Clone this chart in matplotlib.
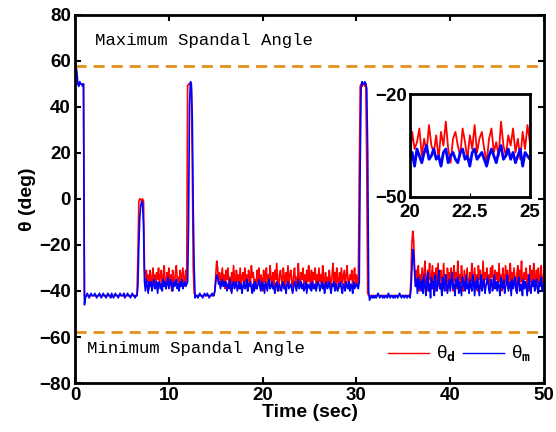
import matplotlib
matplotlib.use('Agg')
import matplotlib.pyplot as plt
import numpy as np

plt.rcParams['font.family'] = ['Liberation Sans', 'DejaVu Sans']
plt.rcParams['font.weight'] = 'bold'
plt.rcParams['axes.labelweight'] = 'bold'

# sampled every 0.1 s, one row per second (row k starts at t = k)
theta_d_rows = [
    [50, 50, 50, 50, 50, 50, 50, 50, 50, 50],
    [-42] * 10, [-42] * 10, [-42] * 10, [-42] * 10, [-42] * 10,
    [-42, -42, -42, -42, -42, -42, -42, -25, -1, 0],
    [0, -1, 0, -1, -30, -38, -31, -36, -33, -39],
    [-31, -35, -38, -30, -36, -33, -39, -32, -35, -30],
    [-37, -33, -31, -38, -34, -29, -36, -39, -32, -35],
    [-30, -37, -33, -40, -31, -35, -38, -32, -29, -36],
    [-34, -39, -31, -36, -33, -30, -38, -35, -31, -37],
    [49, 50, 50, 50, 48, 15, -30, -41, -42, -42],
    [-42] * 10,
    [-42, -42, -42, -42, -42, -42, -42, -42, -42, -40],
    [-33, -27, -30, -36, -32, -38, -34, -30, -37, -33],
    [-39, -31, -35, -30, -37, -34, -40, -32, -36, -29],
    [-35, -38, -31, -36, -33, -39, -30, -37, -34, -32],
    [-38, -30, -36, -33, -40, -31, -35, -37, -29, -34],
    [-32, -37, -35, -39, -31, -36, -30, -38, -33, -35],
    [-40, -31, -36, -34, -30, -38, -33, -37, -29, -35],
    [-37, -32, -39, -31, -35, -28, -36, -40, -33, -31],
    [-35, -38, -30, -34, -39, -32, -36, -29, -37, -33],
    [-31, -36, -40, -33, -30, -37, -34, -38, -28, -35],
    [-38, -32, -35, -30, -37, -33, -39, -31, -36, -29],
    [-34, -37, -31, -39, -32, -35, -30, -38, -33, -36],
    [-30, -36, -33, -38, -29, -35, -39, -32, -37, -34],
    [-37, -31, -35, -40, -33, -28, -36, -32, -38, -30],
    [-35, -39, -32, -36, -30, -37, -34, -31, -38, -33],
    [-29, -36, -38, -33, -35, -31, -39, -34, -30, -37],
    [-33, -38, -35, 10, 49, 50, 49, 50, 50, 49],
    [50, 12, -41, -42, -42, -42, -42, -42, -42, -42],
    [-42] * 10, [-42] * 10, [-42] * 10,
    [-42, -42, -42, -42, -42, -42, -42, -42, -36, -20],
    [-14, -18, -30, -38, -31, -36, -29, -40, -33, -37],
    [-30, -38, -33, -27, -36, -40, -31, -35, -28, -39],
    [-34, -29, -37, -32, -40, -30, -36, -28, -38, -33],
    [-31, -39, -35, -28, -37, -33, -40, -30, -36, -32],
    [-38, -30, -34, -40, -29, -36, -32, -39, -27, -35],
    [-33, -37, -29, -35, -40, -31, -38, -34, -30, -36],
    [-39, -32, -36, -28, -34, -38, -30, -37, -33, -40],
    [-29, -35, -31, -39, -36, -27, -38, -32, -35, -30],
    [-37, -33, -40, -30, -34, -29, -36, -39, -31, -35],
    [-32, -38, -28, -36, -33, -40, -30, -35, -37, -29],
    [-36, -31, -39, -34, -28, -37, -32, -38, -30, -35],
    [-40, -33, -29, -37, -31, -36, -27, -39, -34, -32],
    [-35, -30, -38, -33, -40, -29, -36, -31, -37, -28],
    [-33, -39, -31, -36, -30, -38, -34, -29, -37, -35],
    [-32],
]

theta_m_rows = [
    [56, 58, 55, 50, 49, 51, 50, 50, 49, 50],
    [-46, -43, -42, -41, -42, -43, -42, -41, -42, -42],
    [-42, -41, -42, -43, -42, -42, -41, -42, -43, -42],
    [-41, -42, -42, -43, -42, -41, -42, -42, -43, -41],
    [-42, -43, -42, -41, -42, -42, -43, -42, -41, -42],
    [-42, -42, -41, -43, -42, -42, -41, -42, -42, -43],
    [-42, -41, -42, -42, -43, -42, -42, -38, -20, -8],
    [-3, -1, -2, -12, -36, -40, -35, -38, -41, -36],
    [-38, -36, -40, -37, -35, -39, -38, -36, -41, -37],
    [-36, -39, -37, -40, -35, -38, -36, -39, -37, -34],
    [-39, -37, -35, -38, -40, -36, -38, -37, -35, -39],
    [-37, -40, -36, -38, -35, -39, -37, -36, -38, -37],
    [-36, -10, 40, 51, 50, 35, -5, -30, -43, -42],
    [-42, -43, -42, -41, -42, -42, -43, -42, -41, -42],
    [-42, -41, -42, -43, -42, -42, -41, -42, -42, -40],
    [-36, -33, -34, -37, -36, -39, -37, -35, -38, -36],
    [-38, -36, -40, -37, -39, -35, -38, -41, -37, -36],
    [-39, -37, -36, -40, -38, -36, -39, -37, -41, -38],
    [-36, -39, -38, -35, -40, -37, -38, -36, -39, -41],
    [-37, -40, -36, -38, -39, -37, -35, -38, -40, -36],
    [-39, -37, -41, -36, -38, -40, -37, -35, -39, -38],
    [-36, -39, -38, -41, -37, -36, -40, -38, -37, -39],
    [-40, -37, -36, -39, -38, -41, -37, -36, -39, -38],
    [-37, -39, -41, -38, -36, -38, -40, -37, -35, -39],
    [-38, -36, -39, -37, -40, -38, -36, -41, -37, -38],
    [-39, -37, -40, -36, -38, -39, -37, -40, -38, -36],
    [-37, -40, -38, -36, -39, -37, -41, -38, -36, -39],
    [-38, -36, -39, -41, -37, -38, -36, -40, -37, -39],
    [-40, -37, -38, -36, -39, -41, -37, -38, -40, -36],
    [-38, -39, -36, -40, -37, -38, -41, -36, -39, -37],
    [-38, -37, -39, -36, 15, 48, 51, 50, 50, 51],
    [50, 48, 20, -40, -44, -43, -42, -43, -42, -43],
    [-42, -43, -42, -41, -42, -43, -42, -42, -43, -42],
    [-43, -42, -42, -43, -41, -42, -43, -42, -42, -43],
    [-42, -43, -42, -42, -43, -42, -41, -42, -43, -42],
    [-42, -43, -42, -42, -43, -42, -42, -43, -40, -32],
    [-22, -24, -32, -38, -35, -41, -34, -39, -36, -40],
    [-35, -41, -33, -38, -42, -36, -32, -40, -37, -43],
    [-34, -39, -36, -42, -33, -38, -40, -35, -31, -39],
    [-37, -42, -34, -38, -40, -33, -36, -41, -38, -35],
    [-40, -36, -32, -39, -37, -42, -35, -38, -34, -41],
    [-36, -39, -42, -34, -38, -36, -40, -33, -39, -37],
    [-41, -35, -38, -40, -33, -37, -42, -36, -39, -34],
    [-38, -42, -36, -33, -40, -37, -35, -41, -38, -36],
    [-34, -39, -41, -37, -35, -40, -38, -33, -39, -36],
    [-40, -36, -38, -42, -34, -37, -39, -35, -41, -38],
    [-37, -33, -40, -38, -36, -42, -35, -39, -37, -34],
    [-39, -41, -36, -34, -40, -37, -38, -42, -35, -39],
    [-36, -38, -42, -37, -33, -39, -41, -36, -38, -35],
    [-40, -37, -35, -39, -41, -36, -38, -34, -40, -37],
    [-38],
]

max_angle = 58
min_angle = -58
inset_xticks = [20, 22.5, 25]
inset_xlabels = ['20', '22.5', '25']


def flatten(rows):
    t, v = [], []
    for sec, row in enumerate(rows):
        for i, val in enumerate(row):
            t.append(sec + 0.1 * i)
            v.append(val)
    return np.array(t), np.array(v, dtype=float)


t_d, theta_d = flatten(theta_d_rows)
t_m, theta_m = flatten(theta_m_rows)

fig = plt.figure(figsize=(5.56, 4.32), dpi=100)
ax = fig.add_axes([0.135, 0.1134, 0.8435, 0.852])

ax.plot(t_d, theta_d, color='#ff0000', lw=1.2, label='θ$_\\mathtt{d}$')
ax.plot(t_m, theta_m, color='#0000ff', lw=1.2, label='θ$_\\mathtt{m}$')
orange = '#e5901e'
ax.axhline(max_angle, color=orange, lw=2, ls=(0, (4, 2.5)))
ax.axhline(min_angle, color=orange, lw=2, ls=(0, (4, 2.5)))

ax.text(2.1, 69, 'Maximum Spandal Angle', family='Liberation Mono',
        fontsize=12.5, weight='normal', va='center')
ax.text(1.3, -65, 'Minimum Spandal Angle', family='Liberation Mono',
        fontsize=12.5, weight='normal', va='center')

ax.set_xlim(0, 50)
ax.set_ylim(-80, 80)
ax.set_xticks([0, 10, 20, 30, 40, 50])
ax.set_yticks(range(-80, 81, 20))
ax.tick_params(direction='in', top=True, right=True, length=4, width=1.5,
               labelsize=13.5, pad=3)
for s in ax.spines.values():
    s.set_linewidth(2)
ax.set_xlabel('Time (sec)', fontsize=14, labelpad=0)
ax.set_ylabel('θ (deg)', fontsize=14, labelpad=2)

leg = ax.legend(loc='lower right', ncol=2, frameon=False, handlelength=2.2,
                prop={'size': 13.5, 'weight': 'normal'}, borderaxespad=0.3,
                columnspacing=0.4, handletextpad=0.35,
                bbox_to_anchor=(1.0, 0.015))
for line in leg.get_lines():
    line.set_linewidth(1)

# inset zoom 20-25 s
axin = fig.add_axes([0.737, 0.544, 0.216, 0.238])
axin.plot(t_d, theta_d, color='#ff0000', lw=1.3)
axin.plot(t_m, theta_m, color='#0000ff', lw=2)
axin.set_xlim(20, 25)
axin.set_ylim(-50, -20)
axin.set_xticks(inset_xticks)
axin.set_xticklabels(inset_xlabels)
axin.set_yticks([-50, -20])
axin.tick_params(direction='in', length=3, labelsize=13.5, pad=2)
axin.tick_params(axis='x', pad=5)
for s in axin.spines.values():
    s.set_linewidth(2)

fig.savefig('out.png', dpi=100)
